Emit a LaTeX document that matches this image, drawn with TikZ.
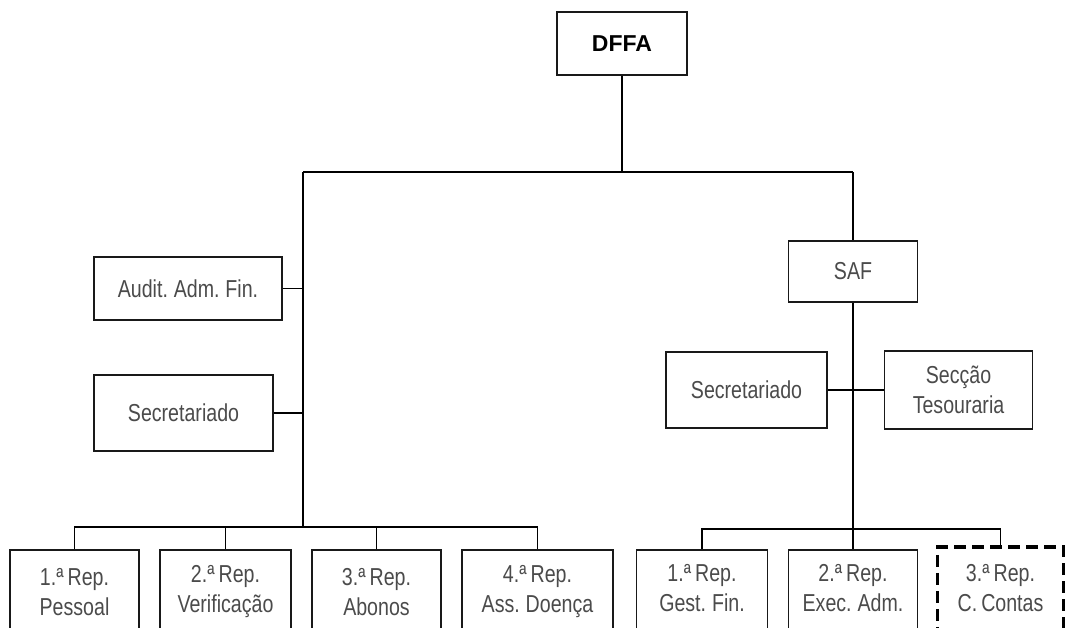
\documentclass[tikz,border=0pt]{standalone}
\usepackage{fontspec}
\setmainfont{Liberation Sans}
\newfontfamily\narrowfont[FakeStretch=0.8,WordSpace=0.75]{Liberation Sans}
\definecolor{txtgray}{RGB}{75,75,75}
\tikzset{
  box/.style={draw=black!90, line width=1.7pt, inner sep=0pt},
  dbox/.style={draw=black, line width=3.6pt, dash pattern=on 12pt off 6pt, inner sep=0pt},
  lbl/.style={text=txtgray, font=\narrowfont\fontsize{24.5}{30}\selectfont, align=center, inner sep=0pt},
  conn/.style={line width=1.7pt, draw=black}
}
\begin{document}
\begin{tikzpicture}[x=1pt,y=-1pt]
\clip (0,0) rectangle (1066,627);
\fill[white] (0,0) rectangle (1066,627);
% top
\node[box, minimum width=130, minimum height=63, font=\bfseries\fontsize{23}{26}\selectfont] (dffa) at (622,43.5) {DFFA};
\coordinate (tl) at (303,172);
\coordinate (tr) at (853,172);
% left side
\node[box, minimum width=188, minimum height=63, lbl] (audit) at (188,288.5) {Audit. Adm. Fin.};
\node[box, minimum width=179, minimum height=76, lbl] (lsec) at (183.5,413) {Secretariado};
\coordinate (lbar) at (303,527);
\node[box, anchor=north, minimum width=129, minimum height=100] (b1) at (74.5,549) {};
\node[box, anchor=north, minimum width=131, minimum height=100] (b2) at (225.5,549) {};
\node[box, anchor=north, minimum width=129, minimum height=100] (b3) at (376.5,549) {};
\node[box, anchor=north, minimum width=151, minimum height=100] (b4) at (537.5,549) {};
\node[lbl] (t1) at (74.5,592) {1.ª Rep.\\Pessoal};
\node[lbl] (t2) at (225.5,592) {2.ª Rep.\\Verificação};
\node[lbl] (t3) at (376.5,592) {3.ª Rep.\\Abonos};
\node[lbl] (t4) at (537.5,592) {4.ª Rep.\\Ass. Doença};
% right side
\node[box, minimum width=129, minimum height=61, lbl] (saf) at (853,271.5) {SAF};
\node[box, minimum width=161, minimum height=76, lbl] (rsec) at (746.5,390) {Secretariado};
\node[box, minimum width=148, minimum height=78, lbl] (tes) at (958.5,390) {Secção\\Tesouraria};
\coordinate (rbar) at (853,529);
\node[box, anchor=north, minimum width=131, minimum height=100] (r1) at (702,549) {};
\node[box, anchor=north, minimum width=129, minimum height=100] (r2) at (853,549) {};
\node[dbox, anchor=north, minimum width=126, minimum height=100] (r3) at (1000.5,545) {};
\node[lbl] (u1) at (702,588) {1.ª Rep.\\Gest. Fin.};
\node[lbl] (u2) at (853,588) {2.ª Rep.\\Exec. Adm.};
\node[lbl] (u3) at (1000.5,588) {3.ª Rep.\\C. Contas};
% connectors
\draw[conn] (dffa.south) -- (dffa.south |- tl);
\draw[conn] (tl) -- (tr);
\draw[conn] (tl) -- (lbar);
\draw[conn] (audit.east) -- (audit.east -| tl);
\draw[conn] (lsec.east) -- (lsec.east -| tl);
\draw[conn] (b1.north) |- (lbar) -| (b4.north);
\draw[conn] (b2.north) -- (b2.north |- lbar);
\draw[conn] (b3.north) -- (b3.north |- lbar);
\draw[conn] (tr) -- (saf.north);
\draw[conn] (saf.south) -- (r2.north);
\draw[conn] (rsec.east) -- (tes.west);
\draw[conn] (r1.north) |- (rbar) -| (r3.north);
\end{tikzpicture}
\end{document}
